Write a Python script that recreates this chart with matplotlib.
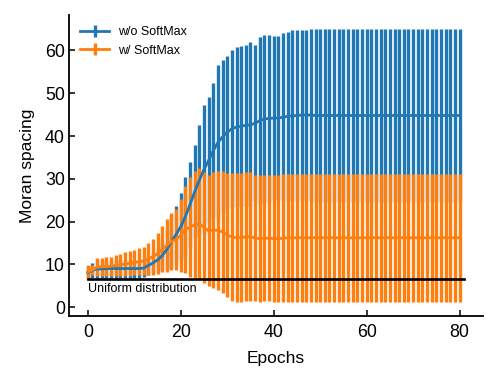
import matplotlib
matplotlib.use("Agg")
import matplotlib.pyplot as plt
import numpy as np

plt.rcParams['font.family'] = ['Liberation Sans', 'DejaVu Sans']

epochs = list(range(81))

blue_mean = [8.0, 8.6, 8.9, 8.9, 9.0, 9.0, 9.0, 9.0, 9.0, 9.0,
             9.0, 9.0, 9.1, 9.7, 10.3, 11.0, 12.0, 13.5, 15.3, 17.0,
             18.8, 21.2, 24.0, 27.0, 29.7, 32.2, 34.3, 36.6, 38.5, 39.8,
             40.9, 41.7, 42.1, 42.3, 42.5, 42.6, 43.0, 43.6, 44.0, 44.1,
             44.2, 44.2, 44.4, 44.6, 44.7, 44.8, 44.9, 44.9, 44.9, 44.8,
             44.8, 44.8, 44.8, 44.8, 44.8, 44.8, 44.8, 44.8, 44.8, 44.8,
             44.8, 44.8, 44.8, 44.8, 44.8, 44.8, 44.8, 44.8, 44.8, 44.8,
             44.8, 44.8, 44.8, 44.8, 44.8, 44.8, 44.8, 44.8, 44.8, 44.8,
             44.8]
blue_std = [1.5, 1.8, 2.1, 2.1, 2.1, 2.1, 2.1, 2.1, 2.1, 2.1,
            2.1, 2.1, 2.1, 2.2, 2.4, 2.5, 3.4, 4.7, 6.2, 6.7,
            7.8, 9.3, 9.9, 10.8, 12.9, 15.1, 14.8, 15.8, 18.1, 17.9,
            17.8, 18.5, 18.8, 18.7, 18.8, 19.3, 18.4, 19.6, 19.6, 19.5,
            19.1, 19.1, 19.6, 19.8, 20.0, 20.0, 19.9, 20.0, 20.2, 20.2,
            20.2, 20.2, 20.2, 20.2, 20.2, 20.2, 20.2, 20.2, 20.2, 20.2,
            20.2, 20.2, 20.2, 20.2, 20.2, 20.2, 20.2, 20.2, 20.2, 20.2,
            20.2, 20.2, 20.2, 20.2, 20.2, 20.2, 20.2, 20.2, 20.2, 20.2,
            20.2]

orange_mean = [8.2, 8.7, 9.35, 9.4, 9.45, 9.55, 9.75, 9.9, 10.05, 10.2,
               10.4, 10.6, 10.8, 11.25, 11.8, 12.5, 13.55, 14.4, 15.35, 15.85,
               16.8, 18.05, 18.7, 19.25, 19.5, 18.6, 17.8, 17.95, 17.95, 17.55,
               16.85, 16.4, 16.2, 16.25, 16.4, 16.5, 16.1, 16.0, 16.1, 16.1,
               16.0, 16.0, 16.1, 16.2, 16.2, 16.2, 16.2, 16.2, 16.2, 16.2,
               16.2, 16.2, 16.2, 16.2, 16.2, 16.2, 16.2, 16.2, 16.2, 16.2,
               16.2, 16.2, 16.2, 16.2, 16.2, 16.2, 16.2, 16.2, 16.2, 16.2,
               16.2, 16.2, 16.2, 16.2, 16.2, 16.2, 16.2, 16.2, 16.2, 16.2,
               16.2]
orange_std = [1.6, 1.1, 2.05, 2.1, 2.15, 2.25, 2.45, 2.6, 2.75, 2.9,
              3.0, 3.2, 3.3, 3.75, 4.2, 4.7, 5.45, 6.1, 6.65, 7.15,
              8.5, 10.15, 11.6, 12.45, 13.0, 12.9, 13.0, 13.55, 13.95, 14.35,
              14.45, 14.9, 15.1, 15.05, 15.1, 15.0, 14.7, 14.8, 14.7, 14.7,
              14.8, 14.8, 14.9, 15.0, 15.0, 15.0, 15.0, 15.0, 15.0, 15.0,
              15.0, 15.0, 15.0, 15.0, 15.0, 15.0, 15.0, 15.0, 15.0, 15.0,
              15.0, 15.0, 15.0, 15.0, 15.0, 15.0, 15.0, 15.0, 15.0, 15.0,
              15.0, 15.0, 15.0, 15.0, 15.0, 15.0, 15.0, 15.0, 15.0, 15.0,
              15.0]

uniform_level = 6.5
uniform_x = [0, 81]
series_labels = ['w/o SoftMax', 'w/ SoftMax']
x_ticks = [0, 20, 40, 60, 80]
y_ticks = [0, 10, 20, 30, 40, 50, 60]

fig = plt.figure(figsize=(4.98, 3.82), dpi=100)
ax = fig.add_axes([0.1386, 0.1728, 0.8314, 0.7879])

ax.errorbar(epochs, blue_mean, yerr=blue_std, color='#1f77b4',
            elinewidth=2.4, linewidth=2.0, label=series_labels[0])
ax.errorbar(epochs, orange_mean, yerr=orange_std, color='#ff7f0e',
            elinewidth=2.4, linewidth=2.0, label=series_labels[1])
ax.plot(uniform_x, [uniform_level, uniform_level], color='black',
        linewidth=1.9, zorder=3)
ax.text(0, 4.2, 'Uniform distribution', fontsize=9, va='center', ha='left')

ax.set_xlim(-4.05, 85.05)
ax.set_ylim(-2.1, 68.3)
ax.set_xticks(x_ticks)
ax.set_yticks(y_ticks)
ax.set_xlabel('Epochs', fontsize=12.5, labelpad=7.5)
ax.set_ylabel('Moran spacing', fontsize=12.5, labelpad=7.5)
ax.tick_params(direction='in', length=4.5, width=1.1, labelsize=12.8)
ax.tick_params(axis='x', pad=5.5)
ax.tick_params(axis='y', pad=3.0)
for s in ['top', 'right']:
    ax.spines[s].set_visible(False)
for s in ['left', 'bottom']:
    ax.spines[s].set_linewidth(1.3)

ax.legend(loc='upper left', frameon=False, fontsize=9,
          handlelength=2.3, handletextpad=0.7)

fig.savefig('out.png', dpi=100)
